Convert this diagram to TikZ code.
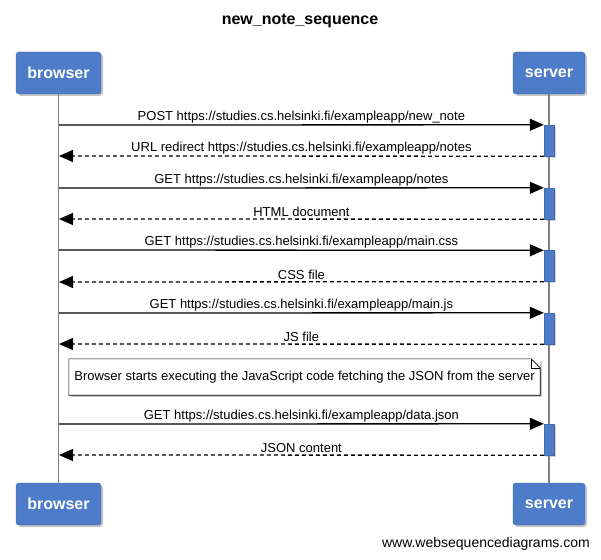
\documentclass[tikz,border=0pt]{standalone}
\usepackage{fontspec}
\setmainfont{Liberation Sans}
\usetikzlibrary{shadows,arrows.meta,positioning}
\definecolor{actorblue}{RGB}{79,124,200}
\tikzset{%
  actor/.style={draw=actorblue!85!black, fill=actorblue, rounded corners=3pt, text=white, font=\bfseries\fontsize{16}{18}\selectfont, minimum height=42pt, inner sep=0pt, drop shadow={opacity=0.45, shadow xshift=2pt, shadow yshift=-2pt}},
  lifeline/.style={draw, line width=1.6pt, color=black!50},
  activation/.style={draw=actorblue!85!black, fill=actorblue, minimum width=10pt, minimum height=31pt, inner sep=0pt, drop shadow={opacity=0.35, shadow xshift=1.5pt, shadow yshift=-1.5pt}},
  line/.style={draw, line width=1.3pt, -{Triangle[length=14pt,width=12pt]}},
  linepart/.style={line, dash pattern=on 4pt off 3pt},
  lbl/.style={above=0pt, inner sep=1.5pt, font=\fontsize{13}{15}\selectfont},
  notebox/.style={fill=white, minimum width=471pt, minimum height=36pt, inner sep=0pt, font=\fontsize{13}{15}\selectfont, drop shadow={opacity=0.4, shadow xshift=2pt, shadow yshift=-2pt}},
  ur/.style={font=\fontsize{14}{16}\selectfont, inner sep=0pt},
}
\newcommand{\callmsg}[4]{%
  \path [#1] (#2) -- node [lbl] {#4} (#3);}

\begin{document}
\begin{tikzpicture}[x=1pt,y=-1pt]
  \useasboundingbox (0,0) rectangle (601,559);
  \node [font=\bfseries\fontsize{16}{18}\selectfont] (title) at (300,21) {new\_note\_sequence};

  \node [actor, minimum width=85pt] (bt) at (58.5,73) {browser};
  \node [actor, minimum width=72pt] (st) at (549,73) {server};
  \node [actor, minimum width=85pt] (bb) at (58.5,504) {browser};
  \node [actor, minimum width=72pt] (sb) at (549,504) {server};
  \path [lifeline] (bt) -- (bb);
  \path [lifeline] (st) -- (sb);

  \node [activation] (a1) at (549,140.5) {};
  \node [activation] (a2) at (549,203.5) {};
  \node [activation] (a3) at (549,266) {};
  \node [activation] (a4) at (549,328.5) {};
  \node [activation] (a5) at (549,439.5) {};

  \coordinate (b1) at (59,125);
  \coordinate (b2) at (59,156);
  \coordinate (b3) at (59,188);
  \coordinate (b4) at (59,219);
  \coordinate (b5) at (59,250);
  \coordinate (b6) at (59,282);
  \coordinate (b7) at (59,313);
  \coordinate (b8) at (59,344);
  \coordinate (b9) at (59,424);
  \coordinate (b10) at (59,455);

  \callmsg{line}{b1}{a1.north west}{POST https://studies.cs.helsinki.fi/exampleapp/new\_note};
  \callmsg{linepart}{a1.south west}{b2}{URL redirect https://studies.cs.helsinki.fi/exampleapp/notes};
  \callmsg{line}{b3}{a2.north west}{GET https://studies.cs.helsinki.fi/exampleapp/notes};
  \callmsg{linepart}{a2.south west}{b4}{HTML document};
  \callmsg{line}{b5}{a3.north west}{GET https://studies.cs.helsinki.fi/exampleapp/main.css};
  \callmsg{linepart}{a3.south west}{b6}{CSS file};
  \callmsg{line}{b7}{a4.north west}{GET https://studies.cs.helsinki.fi/exampleapp/main.js};
  \callmsg{linepart}{a4.south west}{b8}{JS file};

  % note with folded corner
  \node [notebox] (nt) at (304.5,377) {Browser starts executing the JavaScript code fetching the JSON from the server};
  \draw [line width=0.6pt] (nt.north west) -- ([xshift=-9pt]nt.north east) -- ([yshift=-9pt]nt.north east) -- (nt.south east) -- (nt.south west) -- cycle;
  \draw [line width=0.6pt] ([xshift=-9pt]nt.north east) -- ([xshift=-9pt,yshift=-9pt]nt.north east) -- ([yshift=-9pt]nt.north east);

  \callmsg{line}{b9}{a5.north west}{GET https://studies.cs.helsinki.fi/exampleapp/data.json};
  \callmsg{linepart}{a5.south west}{b10}{JSON content};

  \node [ur, anchor=east] (wm) at (590,544) {www.websequencediagrams.com};
\end{tikzpicture}
\end{document}
